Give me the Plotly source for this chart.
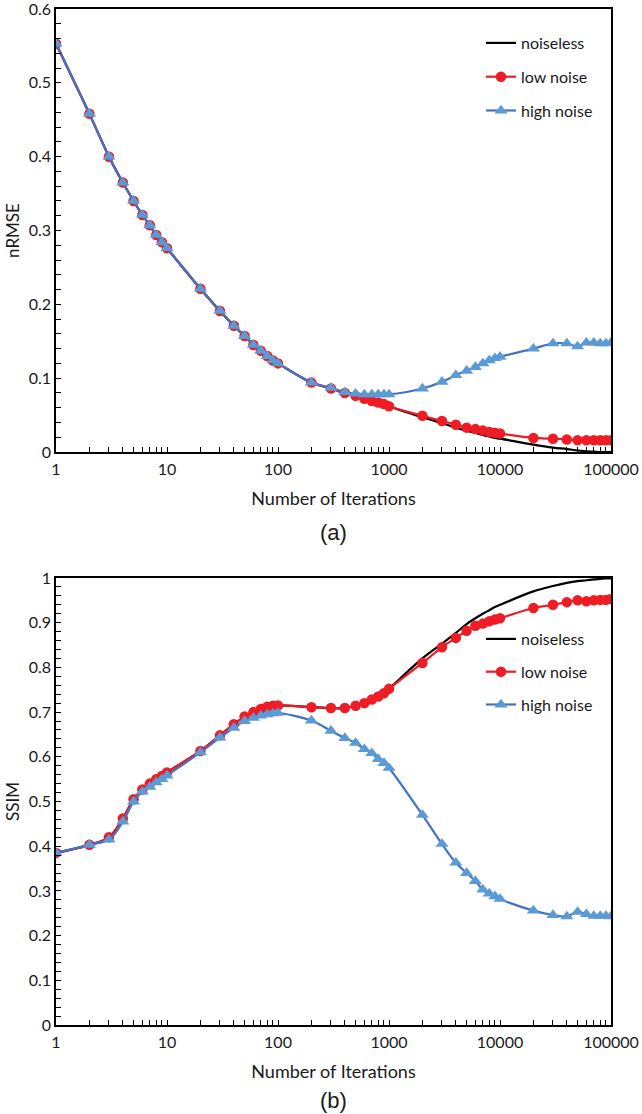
import plotly.graph_objects as go

iterations = [1, 2, 3, 4, 5, 6, 7, 8, 9, 10,
              20, 30, 40, 50, 60, 70, 80, 90, 100,
              200, 300, 400, 500, 600, 700, 800, 900, 1000,
              2000, 3000, 4000, 5000, 6000, 7000, 8000, 9000, 10000,
              20000, 30000, 40000, 50000, 60000, 70000, 80000, 90000, 100000]

# (a) nRMSE
nrmse_noiseless = [0.553, 0.458, 0.400, 0.365, 0.340, 0.321, 0.307, 0.294, 0.284, 0.276,
                   0.221, 0.191, 0.171, 0.157, 0.145, 0.137, 0.130, 0.124, 0.120,
                   0.094, 0.086, 0.080, 0.076, 0.072, 0.069, 0.067, 0.065, 0.062,
                   0.047, 0.039, 0.033, 0.029, 0.026, 0.023, 0.021, 0.019, 0.018,
                   0.010, 0.006, 0.004, 0.002, 0.001, 0.0005, 0.0, 0.0, 0.0]
nrmse_low = [0.553, 0.458, 0.400, 0.365, 0.340, 0.321, 0.307, 0.294, 0.284, 0.276,
             0.221, 0.191, 0.171, 0.157, 0.145, 0.137, 0.130, 0.124, 0.120,
             0.094, 0.086, 0.080, 0.076, 0.072, 0.069, 0.067, 0.065, 0.062,
             0.049, 0.042, 0.037, 0.033, 0.031, 0.029, 0.027, 0.026, 0.025,
             0.019, 0.018, 0.017, 0.016, 0.016, 0.016, 0.016, 0.016, 0.016]
nrmse_high = [0.553, 0.458, 0.400, 0.365, 0.340, 0.321, 0.307, 0.294, 0.284, 0.276,
              0.221, 0.191, 0.171, 0.157, 0.145, 0.137, 0.130, 0.124, 0.120,
              0.094, 0.087, 0.081, 0.079, 0.078, 0.078, 0.078, 0.078, 0.078,
              0.086, 0.095, 0.104, 0.110, 0.115, 0.120, 0.124, 0.127, 0.129,
              0.140, 0.147, 0.147, 0.143, 0.148, 0.148, 0.147, 0.147, 0.148]

# (b) SSIM
ssim_noiseless = [0.385, 0.403, 0.420, 0.462, 0.505, 0.527, 0.540, 0.550, 0.557, 0.565,
                  0.613, 0.648, 0.673, 0.690, 0.700, 0.707, 0.712, 0.714, 0.715,
                  0.711, 0.709, 0.709, 0.714, 0.720, 0.728, 0.735, 0.742, 0.752,
                  0.820, 0.853, 0.877, 0.897, 0.910, 0.920, 0.928, 0.935, 0.940,
                  0.970, 0.982, 0.989, 0.993, 0.995, 0.997, 0.998, 0.999, 0.999]
ssim_low = [0.385, 0.403, 0.420, 0.462, 0.505, 0.527, 0.540, 0.550, 0.557, 0.565,
            0.613, 0.648, 0.673, 0.690, 0.700, 0.707, 0.712, 0.714, 0.715,
            0.711, 0.709, 0.709, 0.714, 0.720, 0.728, 0.735, 0.742, 0.752,
            0.810, 0.845, 0.866, 0.882, 0.893, 0.898, 0.903, 0.907, 0.910,
            0.933, 0.940, 0.946, 0.950, 0.948, 0.950, 0.951, 0.951, 0.953]
ssim_high = [0.385, 0.403, 0.415, 0.455, 0.500, 0.522, 0.533, 0.543, 0.550, 0.558,
             0.610, 0.643, 0.665, 0.680, 0.687, 0.692, 0.695, 0.697, 0.698,
             0.681, 0.658, 0.642, 0.631, 0.617, 0.608, 0.595, 0.586, 0.575,
             0.470, 0.405, 0.363, 0.340, 0.322, 0.303, 0.294, 0.288, 0.282,
             0.256, 0.246, 0.243, 0.253, 0.248, 0.244, 0.244, 0.244, 0.243]

series_names = ["noiseless", "low noise", "high noise"]
x_tickvals = [1, 10, 100, 1000, 10000, 100000]
x_ticktext = ["1", "10", "100", "1000", "10000", "100000"]
x_minor = [m * d for d in [1, 10, 100, 1000, 10000] for m in range(2, 10)]

W, H = 642, 1114
FONT = "Lato, 'Open Sans', sans-serif"
TXT = "#1a1a1a"
BLACK = "#000000"
RED = "#ee1c25"
BLUE_LINE = "#4472c4"
BLUE_MARK = "#5b9bd5"

fig = go.Figure()

def add_traces(ys, xa, ya, legend):
    y0, y1, y2 = ys
    fig.add_trace(go.Scatter(x=iterations, y=y0, name=series_names[0], mode="lines",
                             line=dict(color=BLACK, width=2.2, shape="spline"),
                             xaxis=xa, yaxis=ya, legend=legend, legendgroup=legend + "a"))
    fig.add_trace(go.Scatter(x=iterations, y=y1, name=series_names[1], mode="lines+markers",
                             line=dict(color=RED, width=2.2, shape="spline"),
                             marker=dict(symbol="circle", size=10.5, color=RED),
                             xaxis=xa, yaxis=ya, legend=legend, legendgroup=legend + "b"))
    fig.add_trace(go.Scatter(x=iterations, y=y2, name=series_names[2], mode="lines+markers",
                             line=dict(color=BLUE_LINE, width=2.2, shape="spline"),
                             marker=dict(symbol="triangle-up", size=11.5, color=BLUE_MARK),
                             xaxis=xa, yaxis=ya, legend=legend, legendgroup=legend + "c"))

add_traces([nrmse_noiseless, nrmse_low, nrmse_high], "x", "y", "legend")
add_traces([ssim_noiseless, ssim_low, ssim_high], "x2", "y2", "legend2")

def px_x(p):
    return p / W

def px_y(p):
    return 1 - p / H

xdom = [px_x(56), px_x(611)]
common_x = dict(type="log", range=[0, 5], tickvals=x_tickvals, ticktext=x_ticktext,
                ticks="inside", ticklen=5, tickwidth=1, tickcolor=BLACK,
                showline=True, linecolor=BLACK, linewidth=1.5, mirror=True,
                showgrid=False, zeroline=False, automargin=False,
                ticklabeloverflow="allow", ticklabelstandoff=2,
                tickfont=dict(family=FONT, size=16, color=TXT),
                minor=dict(tickvals=x_minor, ticks="inside", ticklen=5, tickwidth=1,
                           tickcolor=BLACK, showgrid=False),
                title=dict(text="Number of Iterations", font=dict(family=FONT, size=18, color=TXT),
                           standoff=15),
                domain=xdom)

common_y = dict(ticks="inside", ticklen=5, tickwidth=1, tickcolor=BLACK,
                showline=True, linecolor=BLACK, linewidth=1.5, mirror=True,
                showgrid=False, zeroline=False, automargin=False,
                ticklabeloverflow="allow",
                tickfont=dict(family=FONT, size=16, color=TXT),
                minor=dict(ticks="inside", ticklen=5, tickwidth=1, tickcolor=BLACK,
                           dtick=0.02, showgrid=False))

fig.update_layout(
    width=W, height=H,
    margin=dict(l=0, r=0, t=0, b=0),
    paper_bgcolor="white", plot_bgcolor="white",
    showlegend=True,
    xaxis=dict(common_x, anchor="y"),
    yaxis=dict(common_y, range=[0, 0.6], dtick=0.1, anchor="x",
               domain=[px_y(452), px_y(9)],
               title=dict(text="nRMSE", font=dict(family=FONT, size=17, color=TXT), standoff=5)),
    xaxis2=dict(common_x, anchor="y2"),
    yaxis2=dict(common_y, range=[0, 1], dtick=0.1, anchor="x2",
                domain=[px_y(1025), px_y(578)],
                title=dict(text="SSIM", font=dict(family=FONT, size=17, color=TXT), standoff=5)),
    legend=dict(x=px_x(481), y=px_y(26), xanchor="left", yanchor="top",
                bgcolor="rgba(0,0,0,0)", tracegroupgap=10,
                font=dict(family=FONT, size=16, color=TXT)),
    legend2=dict(x=px_x(481), y=px_y(622), xanchor="left", yanchor="top",
                 bgcolor="rgba(0,0,0,0)", tracegroupgap=9,
                 font=dict(family=FONT, size=16, color=TXT)),
    annotations=[
        dict(text="(a)", x=px_x(334), y=px_y(532), xref="paper", yref="paper",
             xanchor="center", yanchor="middle", showarrow=False,
             font=dict(family="Liberation Sans, Arial, sans-serif", size=22, color=TXT)),
        dict(text="(b)", x=px_x(334), y=px_y(1100), xref="paper", yref="paper",
             xanchor="center", yanchor="middle", showarrow=False,
             font=dict(family="Liberation Sans, Arial, sans-serif", size=22, color=TXT)),
    ],
)

fig.write_html(
    "out.html",
    config={"displayModeBar": False},
    post_script="document.body.style.margin='0';document.body.style.padding='0';"
                "document.documentElement.style.overflow='hidden';",
)
